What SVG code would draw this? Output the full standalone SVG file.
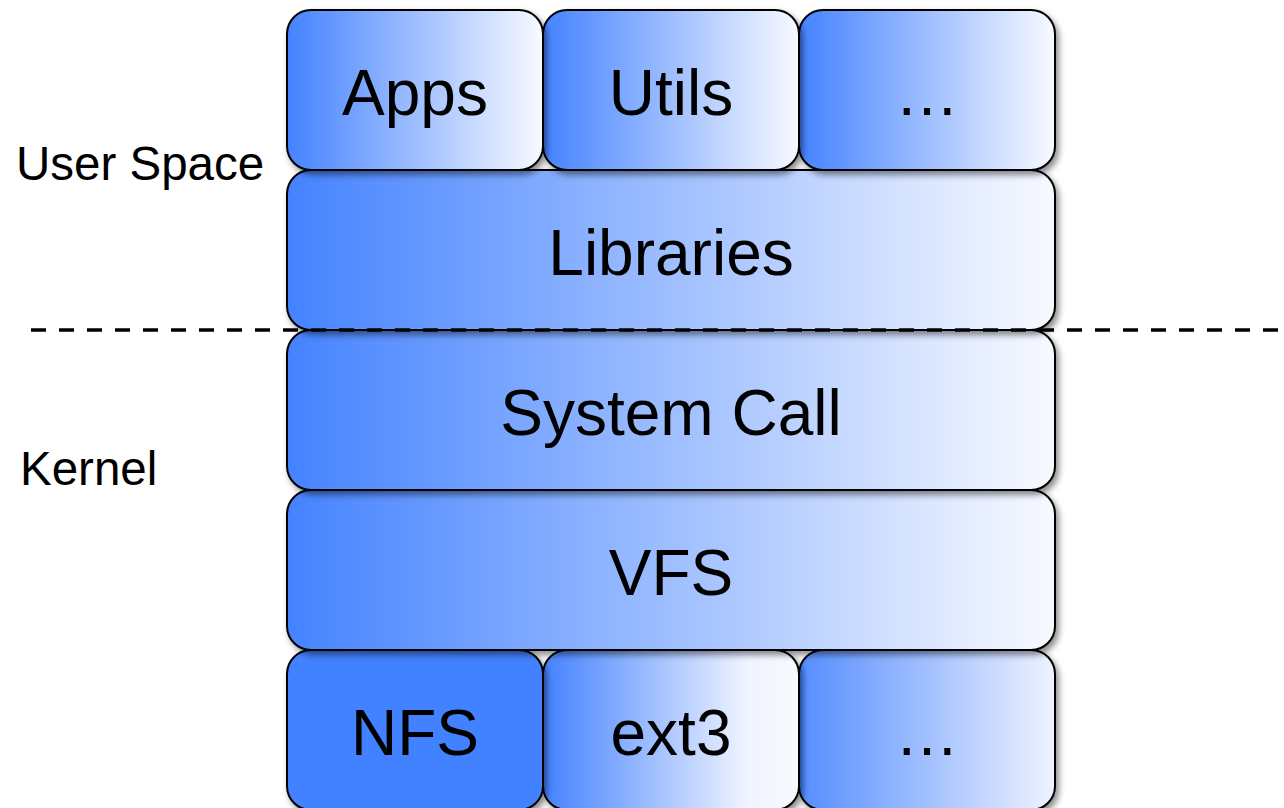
<svg xmlns="http://www.w3.org/2000/svg" width="1284" height="808" viewBox="0 0 1284 808">
<defs>
<linearGradient id="g" x1="0" y1="0" x2="1" y2="0">
<stop offset="0" stop-color="#4281ff"/>
<stop offset="0.03" stop-color="#4a86ff"/>
<stop offset="1" stop-color="#f8faff"/>
</linearGradient>
<linearGradient id="g2" x1="0" y1="0" x2="1" y2="0">
<stop offset="0" stop-color="#4281ff"/>
<stop offset="0.03" stop-color="#4a86ff"/>
<stop offset="0.8" stop-color="#f0f4ff"/>
<stop offset="1" stop-color="#f8faff"/>
</linearGradient>
<linearGradient id="g3" x1="0" y1="0" x2="1" y2="0">
<stop offset="0" stop-color="#4281ff"/>
<stop offset="0.03" stop-color="#5a90ff"/>
<stop offset="1" stop-color="#eef3ff"/>
</linearGradient>
<filter id="sh" x="-10%" y="-10%" width="125%" height="130%">
<feDropShadow dx="3" dy="4" stdDeviation="3" flood-color="#000" flood-opacity="0.45"/>
</filter>
</defs>
<style>
.box{stroke:#000;stroke-width:2;filter:url(#sh)}
.t{font-family:"Liberation Sans",Arial,sans-serif;font-size:64px;fill:#000;text-anchor:middle}
.lbl{font-family:"Liberation Sans",Arial,sans-serif;font-size:47.5px;fill:#000}
</style>
<rect width="1284" height="808" fill="#fff"/>
<g id="fs-more"><rect class="box" x="799" y="650" width="256" height="160" rx="24" fill="url(#g3)"/><text class="t" x="927" y="755">…</text></g>
<g id="ext3"><rect class="box" x="543" y="650" width="256" height="160" rx="24" fill="url(#g2)"/><text class="t" x="671" y="755">ext3</text></g>
<g id="nfs"><rect class="box" x="287" y="650" width="256" height="160" rx="24" fill="#4381ff"/><text class="t" x="415" y="755">NFS</text></g>
<g id="vfs"><rect class="box" x="287" y="490" width="768" height="160" rx="24" fill="url(#g)"/><text class="t" x="671" y="595">VFS</text></g>
<g id="syscall"><rect class="box" x="287" y="330" width="768" height="160" rx="24" fill="url(#g)"/><text class="t" x="671" y="435">System Call</text></g>
<g id="libraries"><rect class="box" x="287" y="170" width="768" height="160" rx="24" fill="url(#g)"/><text class="t" x="671" y="275">Libraries</text></g>
<g id="more"><rect class="box" x="799" y="10" width="256" height="160" rx="24" fill="url(#g)"/><text class="t" x="927" y="115">…</text></g>
<g id="utils"><rect class="box" x="543" y="10" width="256" height="160" rx="24" fill="url(#g)"/><text class="t" x="671" y="115">Utils</text></g>
<g id="apps"><rect class="box" x="287" y="10" width="256" height="160" rx="24" fill="url(#g)"/><text class="t" x="415" y="115">Apps</text></g>
<g id="connectors">
<line x1="31" y1="330" x2="1284" y2="330" stroke="#000" stroke-width="3.5" stroke-dasharray="15 13"/>
</g>
<g id="labels">
<text class="lbl" x="16" y="180">User Space</text>
<text class="lbl" x="20" y="485">Kernel</text>
</g>
</svg>
